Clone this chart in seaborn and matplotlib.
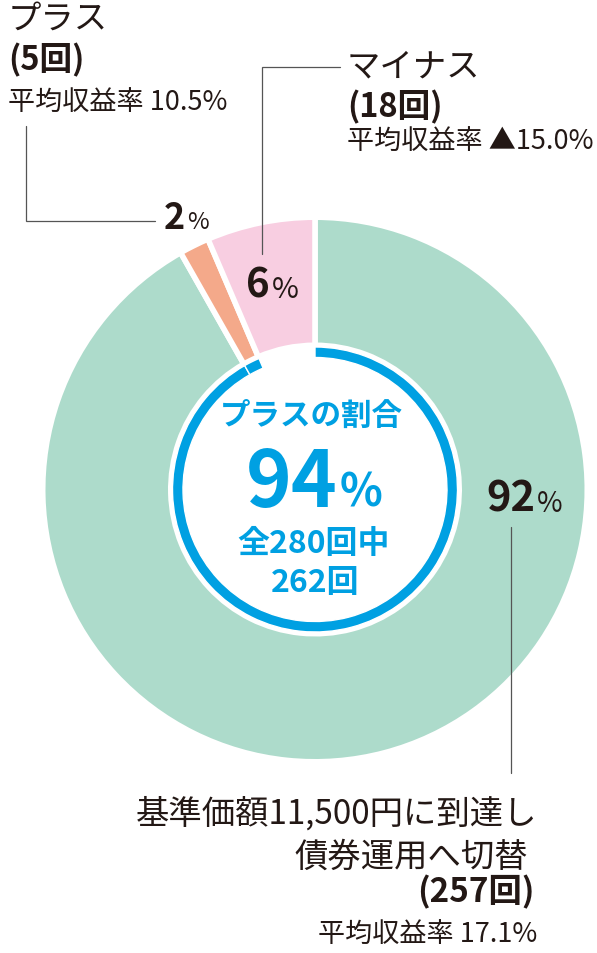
import matplotlib
matplotlib.use("Agg")
import matplotlib.pyplot as plt
import seaborn as sns

# ---- data ----
segments = ["基準価額11,500円に到達し債券運用へ切替", "プラス", "マイナス"]
counts = [257, 5, 18]
pct_labels = ["92", "2", "6"]
avg_returns = ["17.1%", "10.5%", "▲15.0%"]
total_count = 280
plus_count = 262
plus_share = "94"

# ---- style ----
sns.set_theme(style="white")
FAM = ["Noto Sans CJK JP", "DejaVu Sans"]
plt.rcParams["font.family"] = FAM

palette = sns.color_palette(["#ADDBCB", "#F4A98A", "#F8CEE1"])
BLUE = "#00A0E2"
DARK = "#231815"
LINE = "#555555"

W, H = 597, 954
fig = plt.figure(figsize=(W / 100, H / 100), dpi=100)
ax = fig.add_axes([0, 0, 1, 1])

def Y(y):
    return H - y

cx, cy = 315, Y(490.5)
lw_pt = 4.0
pad = lw_pt * 100 / 72 / 2  # half stroke width in px

# main donut
wedges, _ = ax.pie(counts, colors=palette, startangle=90, counterclock=False,
                   center=(cx, cy), radius=269.5 + pad,
                   wedgeprops=dict(width=(269.5 + pad) - (147 - pad),
                                   edgecolor="white", linewidth=lw_pt))

# blue ring for the "plus" share
ring, _ = ax.pie(counts, colors=[BLUE, BLUE, "white"], startangle=90, counterclock=False,
                 center=(cx, cy), radius=142.5,
                 wedgeprops=dict(width=10.5, edgecolor="white", linewidth=1.0))
ring[2].set_visible(False)

ax.set_xlim(0, W)
ax.set_ylim(0, H)
ax.set_aspect("equal")
ax.axis("off")

def T(x, y, s, size, weight="normal", color=DARK, ha="left", va="center"):
    ax.text(x, Y(y), s, fontsize=size, fontweight=weight, color=color,
            ha=ha, va=va, family=FAM)

# ---- center texts ----
T(311, 416, "プラスの割合", 22, "bold", BLUE, ha="center")
T(338, 507, plus_share, 56, "bold", BLUE, ha="right", va="baseline")
T(340, 507, "%", 32, "bold", BLUE, ha="left", va="baseline")
T(314, 544, f"全{total_count}回中", 23, "bold", BLUE, ha="center")
T(315, 583, f"{plus_count}回", 23, "bold", BLUE, ha="center")

# ---- percent labels on wedges ----
T(535, 512, pct_labels[0], 30, "bold", ha="right", va="baseline")
T(537, 512, "%", 20, ha="left", va="baseline")
T(185, 229, pct_labels[1], 26, "bold", ha="right", va="baseline")
T(187, 229, "%", 17, ha="left", va="baseline")
T(270, 298, pct_labels[2], 29, "bold", ha="right", va="baseline")
T(272, 298, "%", 21, ha="left", va="baseline")

# ---- leader lines ----
ax.plot([26, 26, 155], [Y(127), Y(222), Y(222)], color=LINE, lw=0.9, solid_joinstyle="miter")
ax.plot([262, 262, 340], [Y(255), Y(68), Y(68)], color=LINE, lw=0.9, solid_joinstyle="miter")
ax.plot([511, 511], [Y(528), Y(774)], color=LINE, lw=0.9)

# ---- plus label (top left) ----
T(8, 19, segments[1], 24)
T(8, 60, f"({counts[1]}回)", 23.5, "bold")
T(8, 103, f"平均収益率 {avg_returns[1]}", 19.5)

# ---- minus label (top right) ----
T(347, 67, segments[2], 24)
T(347, 107, f"({counts[2]}回)", 23.5, "bold")
T(347, 142, f"平均収益率 {avg_returns[2]}", 19.5)

# ---- main label (bottom right) ----
T(537, 814, "基準価額11,500円に到達し", 24, ha="right")
T(528, 857, "債券運用へ切替", 24, ha="right")
T(535, 892, f"({counts[0]}回)", 24, "bold", ha="right")
T(537, 935, f"平均収益率 {avg_returns[0]}", 19.5, ha="right")

fig.savefig("out.png", dpi=100)
